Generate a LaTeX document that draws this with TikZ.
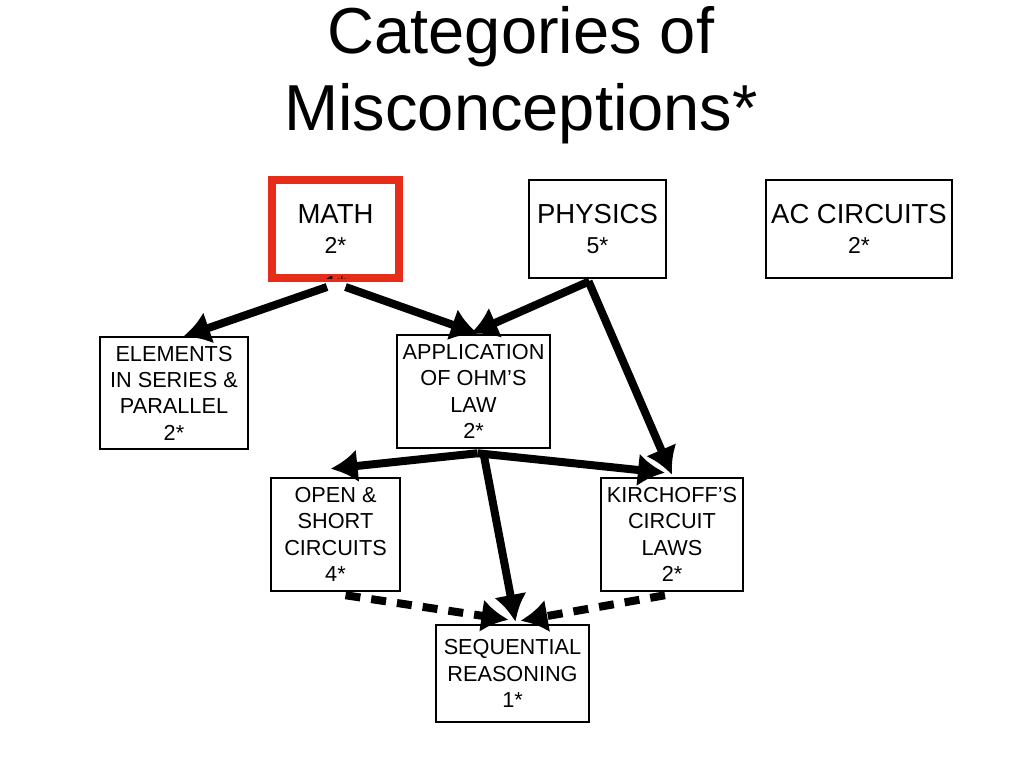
\documentclass[tikz,border=0pt]{standalone}
\usepackage{fontspec}
\setmainfont{Liberation Sans}
\usetikzlibrary{arrows.meta}
\definecolor{mathred}{RGB}{230,45,25}
\newcommand\starsize{\fontsize{23}{30}\selectfont}

\begin{document}
\begin{tikzpicture}[x=1pt,y=-1pt,
    line/.style={draw, -{Latex[length=27pt,width=33pt]}, line width=8pt},
    dline/.style={line, dash pattern=on 15pt off 11pt},
    topbox/.style={draw, line width=2.5pt, minimum width=#1, minimum height=98pt, inner sep=0pt, align=center, font=\fontsize{27.5}{30}\selectfont},
    catbox/.style={draw, line width=2.5pt, minimum width=#1, minimum height=113pt, inner sep=0pt, align=center, font=\fontsize{21.7}{26.3}\selectfont},
    ]
    \useasboundingbox (0,0) rectangle (1024,768);

    % Title
    \node [align=center, font=\fontsize{65}{77}\selectfont] (title) at (521,75) {Categories of\\Misconceptions*};

    % Place nodes
    \node [topbox=127pt, draw=mathred, line width=8pt] (math) at (335.5,229) {MATH\\\starsize 2*};
    \begin{scope} % third line, mostly hidden by the frame
      \clip ([xshift=4pt,yshift=4pt]math.south west) rectangle ([xshift=-4pt,yshift=-4pt]math.north east);
      \node [font=\starsize, anchor=base] (mathlow) at (335.5,292) {1*};
    \end{scope}
    \node [topbox=137pt] (phys) at (597.5,229) {PHYSICS\\\starsize 5*};
    \node [topbox=186pt] (ac) at (859,229) {AC CIRCUITS\\\starsize 2*};
    \node [catbox=148pt, minimum height=112pt] (elem) at (174,393) {ELEMENTS\\IN SERIES \&\\PARALLEL\\2*};
    \node [catbox=153pt] (ohm) at (473.5,391.5) {APPLICATION\\OF OHM'S\\LAW\\2*};
    \node [catbox=129pt] (open) at (335.5,534.5) {OPEN \&\\SHORT\\CIRCUITS\\4*};
    \node [catbox=142pt] (kirch) at (672,534.5) {KIRCHOFF'S\\CIRCUIT\\LAWS\\2*};
    \node [catbox=153pt, minimum height=97pt] (seq) at (512.5,673.5) {SEQUENTIAL\\REASONING\\1*};

    % Draw edges
    \path [line] ([xshift=-8.5pt,yshift=-5pt]math.south) -- ([xshift=9pt,yshift=-1pt]elem.north);
    \path [line] ([xshift=10pt,yshift=-5pt]math.south) -- ([xshift=4.5pt]ohm.north);
    \path [line] ([xshift=-8pt,yshift=-2pt]phys.south) -- ([xshift=-3pt]ohm.north);
    \path [line] ([xshift=-9pt,yshift=-2pt]phys.south) -- ([yshift=2pt]kirch.north);
    \path [line] ([xshift=4pt,yshift=-4pt]ohm.south) -- ([xshift=-5pt,yshift=8pt]open.north);
    \path [line] ([xshift=4pt,yshift=-4pt]ohm.south) -- ([xshift=-7pt,yshift=4pt]kirch.north);
    \path [line] ([xshift=10pt,yshift=-4pt]ohm.south) -- ([xshift=3pt,yshift=2pt]seq.north);
    \path [dline] ([xshift=10pt,yshift=-3pt]open.south) -- ([xshift=-4pt,yshift=4pt]seq.north);
    \path [dline] ([xshift=-7pt,yshift=-3pt]kirch.south) -- ([xshift=8pt,yshift=3pt]seq.north);
\end{tikzpicture}
\end{document}
